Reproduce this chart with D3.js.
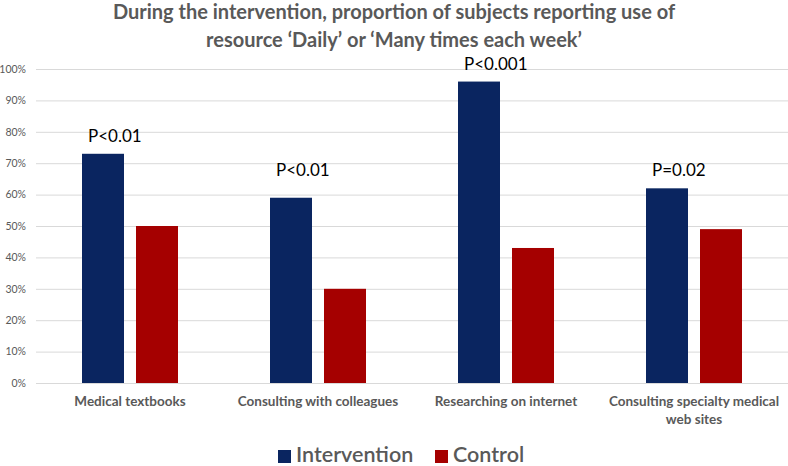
<!DOCTYPE html>
<html>
<head>
<meta charset="utf-8">
<script src="https://cdn.jsdelivr.net/npm/d3@7"></script>
<style>
  html, body { margin: 0; padding: 0; background: #fff; }
  svg { display: block; font-family: Lato, "Open Sans", sans-serif; }
</style>
</head>
<body>
<svg id="chart" width="788" height="466"></svg>
<script>
// ---- data ----
const categories = ["Medical textbooks", "Consulting with colleagues", "Researching on internet", "Consulting specialty medical web sites"];
const seriesNames = ["Intervention", "Control"];
const intervention = [73, 59, 96, 62];
const control = [50, 30, 43, 49];
const pLabels = ["P<0.01", "P<0.01", "P<0.001", "P=0.02"];
const pLabelLevel = [76.8, 65.9, 99.7, 65.9];
const yTicks = [0, 10, 20, 30, 40, 50, 60, 70, 80, 90, 100];
const titleLines = ["During the intervention, proportion of subjects reporting use of", "resource \u2018Daily\u2019 or \u2018Many times each week\u2019"];
const colors = ["#0a2560", "#a50000"];

// ---- layout ----
const svg = d3.select("#chart");
const W = 788, H = 466;
const plot = { left: 36, right: 788, top: 69, bottom: 383 };

const x0 = d3.scaleBand().domain(categories).range([plot.left, plot.right]).paddingInner(0).paddingOuter(0);
const x1 = d3.scaleBand().domain(seriesNames).range([0, x0.bandwidth()]).paddingInner(12 / 54).paddingOuter(0.852);
const y = d3.scaleLinear().domain([0, 100]).range([plot.bottom, plot.top]);

// title
svg.append("g").selectAll("text").data(titleLines).join("text")
  .attr("x", W / 2).attr("y", (d, i) => 19 + i * 28)
  .attr("text-anchor", "middle")
  .attr("font-size", 20).attr("font-weight", 700).attr("fill", "#595959")
  .text(d => d);

// gridlines
const yAxis = d3.axisLeft(y).tickValues(yTicks).tickFormat(d => d + "%")
  .tickSize(-(plot.right - plot.left)).tickPadding(10);
const gy = svg.append("g").attr("transform", `translate(${plot.left},0)`).call(yAxis);
gy.select(".domain").remove();
gy.selectAll(".tick line").attr("stroke", "#d9d9d9").attr("stroke-width", 1);
gy.selectAll(".tick text").attr("fill", "#595959").attr("font-size", 10.5).attr("font-family", "Lato, sans-serif");

// bars
const rows = categories.map((c, i) => ({ cat: c, vals: [intervention[i], control[i]] }));
const groups = svg.append("g").selectAll("g").data(rows).join("g")
  .attr("transform", d => `translate(${x0(d.cat)},0)`);
groups.selectAll("rect").data(d => d.vals.map((v, j) => ({ s: seriesNames[j], v, j }))).join("rect")
  .attr("x", d => x1(d.s)).attr("width", x1.bandwidth())
  .attr("y", d => y(d.v)).attr("height", d => y(0) - y(d.v))
  .attr("fill", d => colors[d.j]);

// baseline axis
const xAxis = d3.axisBottom(x0).tickSize(0).tickPadding(13);
const gx = svg.append("g").attr("transform", `translate(0,${plot.bottom})`).call(xAxis);
gx.select(".domain").attr("stroke", "#d9d9d9").attr("stroke-width", 1.2);
gx.selectAll(".tick text").attr("fill", "#595959").attr("font-size", 13.5).attr("font-weight", 700)
  .attr("font-family", "Lato, sans-serif")
  .each(function(d) {
    const t = d3.select(this);
    const words = d.split(" ");
    const maxW = x0.bandwidth() - 4;
    t.text(null);
    let line = [], lines = [];
    const tmp = t.append("tspan");
    words.forEach(w => {
      line.push(w);
      tmp.text(line.join(" "));
      if (tmp.node().getComputedTextLength() > maxW && line.length > 1) {
        line.pop(); lines.push(line.join(" ")); line = [w];
      }
    });
    lines.push(line.join(" "));
    tmp.remove();
    lines.forEach((l, i) => {
      t.append("tspan").attr("x", 0).attr("dy", i === 0 ? "0.71em" : 18).text(l);
    });
  });

// p-value labels
svg.append("g").selectAll("text").data(categories).join("text")
  .attr("x", (c) => x0(c) + x1(seriesNames[0]) + 6)
  .attr("y", (c, i) => y(pLabelLevel[i]))
  .attr("font-size", 17).attr("fill", "#000")
  .text((c, i) => pLabels[i]);

// legend
const legend = svg.append("g").attr("transform", "translate(278,449)");
const legItems = legend.selectAll("g").data(seriesNames).join("g")
  .attr("transform", (d, i) => `translate(${i * 157},0)`);
legItems.append("rect").attr("y", 1).attr("width", 13).attr("height", 13).attr("fill", (d, i) => colors[i]);
legItems.append("text").attr("x", 18).attr("y", 13).attr("font-size", 21.5).attr("fill", "#595959")
  .attr("font-weight", 600).text(d => d);
</script>
</body>
</html>
